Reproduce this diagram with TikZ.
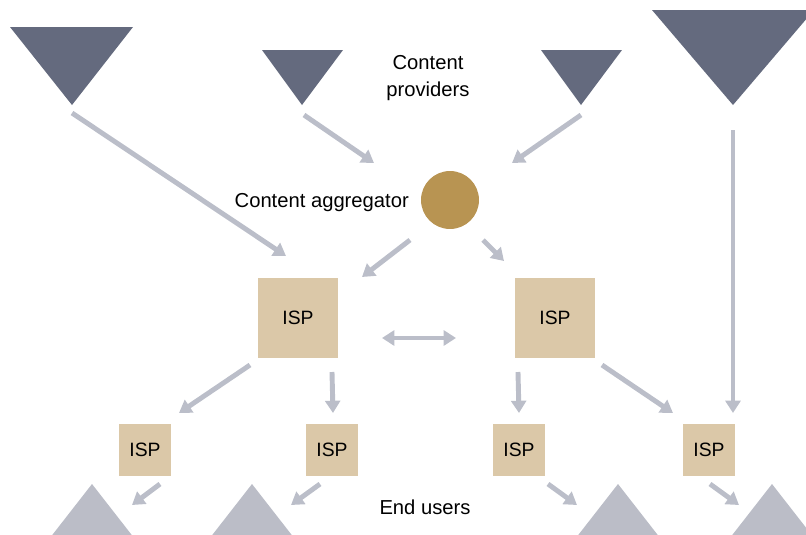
\documentclass[tikz,border=0pt]{standalone}
\usepackage{fontspec}
\setmainfont{Liberation Sans}
\usetikzlibrary{arrows.meta}

\definecolor{provider}{HTML}{646A7E}
\definecolor{enduser}{HTML}{BBBDC7}
\definecolor{flow}{HTML}{BBBEC9}
\definecolor{ispfill}{HTML}{DBC8A8}
\definecolor{aggfill}{HTML}{B89452}

\tikzset{
	flowarrow/.style={draw=flow,line width=2.8pt,-{Triangle[width=8.5pt,length=7pt]}},
	bigisp/.style={fill=ispfill,minimum size=46pt,inner sep=0pt,font=\fontsize{11}{13}\selectfont},
	smallisp/.style={fill=ispfill,minimum size=29.5pt,inner sep=0pt,font=\fontsize{11}{13}\selectfont},
	label/.style={font=\fontsize{11.5}{15.5}\selectfont,align=center}
}

\begin{document}
\begin{tikzpicture}[x=0.02cm,y=-0.02cm]
		\clip (0,0) rectangle (806,535);
		
		% content providers
		\fill[provider] (10,27) -- (133,27) -- (72,105) -- cycle;
		\fill[provider] (262,50) -- (343,50) -- (302,105) -- cycle;
		\fill[provider] (541,50) -- (622,50) -- (581,105) -- cycle;
		\fill[provider] (652,10) -- (814,10) -- (733,105) -- cycle;
		\node [label] (providers) at (428,78) {Content\\providers};
		
		% aggregator
		\node [circle,fill=aggfill,minimum size=33pt,inner sep=0pt] (agg) at (450,200) {};
		\node [label,left] (agglabel) at (415,203) {Content aggregator};
		
		% ISPs
		\node [bigisp] (ispA) at (298,318) {ISP};
		\node [bigisp] (ispB) at (555,318) {ISP};
		\node [smallisp] (ispA1) at (145,450) {ISP};
		\node [smallisp] (ispA2) at (332,450) {ISP};
		\node [smallisp] (ispB1) at (519,450) {ISP};
		\node [smallisp] (ispB2) at (709,450) {ISP};
		
		% end users
		\fill[enduser] (92,484) -- (145,552) -- (39,552) -- cycle;
		\fill[enduser] (252,484) -- (305,552) -- (199,552) -- cycle;
		\fill[enduser] (618,484) -- (671,552) -- (565,552) -- cycle;
		\fill[enduser] (772,484) -- (825,552) -- (719,552) -- cycle;
		\node [label] (users) at (425,507) {End users};
		
		% arrow ends
		\coordinate (p1) at (72,113);
		\coordinate (p1e) at (286,256);
		\coordinate (p2) at (304,115);
		\coordinate (p2e) at (374,163);
		\coordinate (p3) at (581,115);
		\coordinate (p3e) at (512,163);
		\coordinate (p4) at (733,130);
		\coordinate (p4e) at (733,413);
		\coordinate (a1) at (410,240);
		\coordinate (a1e) at (362,277);
		\coordinate (a2) at (483,240);
		\coordinate (a2e) at (504,261);
		\coordinate (i1) at (250,365);
		\coordinate (i1e) at (179,413);
		\coordinate (i2) at (332,372);
		\coordinate (i2e) at (333,413);
		\coordinate (i3) at (518,372);
		\coordinate (i3e) at (519,413);
		\coordinate (i4) at (602,365);
		\coordinate (i4e) at (673,413);
		\coordinate (u1) at (160,484);
		\coordinate (u1e) at (132,505);
		\coordinate (u2) at (320,484);
		\coordinate (u2e) at (291,505);
		\coordinate (u3) at (548,484);
		\coordinate (u3e) at (577,505);
		\coordinate (u4) at (710,484);
		\coordinate (u4e) at (739,505);
		\coordinate (pl) at (382,338);
		\coordinate (pr) at (456,338);
		
		\foreach \s/\e in {p1/p1e,p2/p2e,p3/p3e,p4/p4e,a1/a1e,a2/a2e,i1/i1e,i2/i2e,i3/i3e,i4/i4e,u1/u1e,u2/u2e,u3/u3e,u4/u4e}
			\draw[flowarrow] (\s) -- (\e);
		\draw[flowarrow,line width=2.3pt,{Triangle[width=8.5pt,length=7pt]}-{Triangle[width=8.5pt,length=7pt]}] (pl) -- (pr);
		\end{tikzpicture}
\end{document}
